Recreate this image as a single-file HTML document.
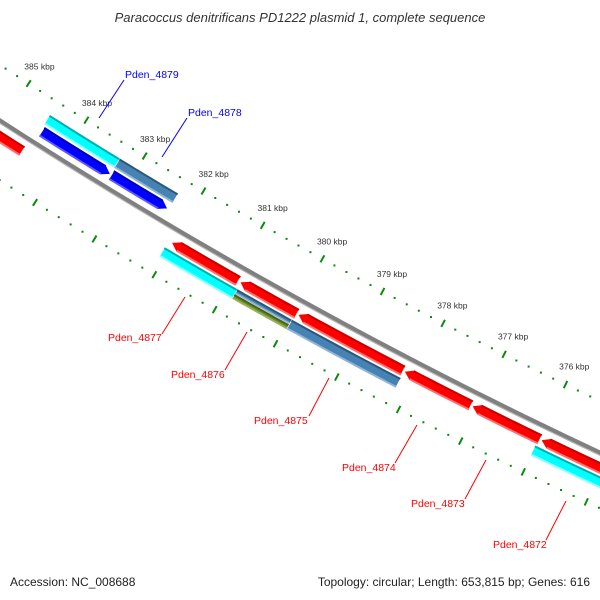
<!DOCTYPE html>
<html>
<head>
<meta charset="utf-8">
<style>
  html,body{margin:0;padding:0;background:#fff;}
  svg{display:block;font-family:"Liberation Sans",sans-serif;}
</style>
</head>
<body>
<svg id="map" width="600" height="600" viewBox="0 0 600 600" xmlns="http://www.w3.org/2000/svg">
  <rect width="600" height="600" fill="#fff"/>
  <g id="backbone-layer"></g>
  <g id="tick-layer"></g>
  <g id="feature-layer"></g>
  <g id="label-layer">
    <g fill="#0000ff" stroke="#0000ff">
      <line x1="124" y1="80" x2="99" y2="118" stroke-width="1"/>
      <text x="125" y="78" font-size="10.5" stroke="none">Pden_4879</text>
    </g>
    <g fill="#0000ff" stroke="#0000ff">
      <line x1="187" y1="118" x2="162" y2="157" stroke-width="1"/>
      <text x="188" y="116" font-size="10.5" stroke="none">Pden_4878</text>
    </g>
    <g fill="#ff0000" stroke="#ff0000">
      <line x1="185" y1="297" x2="162" y2="334" stroke-width="1"/>
      <text x="108" y="341" font-size="10.5" stroke="none">Pden_4877</text>
    </g>
    <g fill="#ff0000" stroke="#ff0000">
      <line x1="247" y1="332" x2="225" y2="370" stroke-width="1"/>
      <text x="171" y="378" font-size="10.5" stroke="none">Pden_4876</text>
    </g>
    <g fill="#ff0000" stroke="#ff0000">
      <line x1="329" y1="378" x2="309" y2="416" stroke-width="1"/>
      <text x="254" y="424" font-size="10.5" stroke="none">Pden_4875</text>
    </g>
    <g fill="#ff0000" stroke="#ff0000">
      <line x1="417" y1="425" x2="395" y2="463" stroke-width="1"/>
      <text x="342" y="471" font-size="10.5" stroke="none">Pden_4874</text>
    </g>
    <g fill="#ff0000" stroke="#ff0000">
      <line x1="486" y1="460" x2="465" y2="499" stroke-width="1"/>
      <text x="411" y="507" font-size="10.5" stroke="none">Pden_4873</text>
    </g>
    <g fill="#ff0000" stroke="#ff0000">
      <line x1="566" y1="501" x2="546" y2="540" stroke-width="1"/>
      <text x="493" y="548" font-size="10.5" stroke="none">Pden_4872</text>
    </g>
  </g>
  <text x="300" y="22" text-anchor="middle" font-size="13" font-style="italic" fill="#333">Paracoccus denitrificans PD1222 plasmid 1, complete sequence</text>
  <text x="10" y="586" font-size="12" fill="#222">Accession: NC_008688</text>
  <text x="590" y="586" text-anchor="end" font-size="12" fill="#222">Topology: circular; Length: 653,815 bp; Genes: 616</text>
</svg>
<script>
// ---- data ----
const featNames  = ['pden-4880','pden-4879-cds','pden-4878-cds','pden-4879-gene','pden-4878-gene',
                    'pden-4877-cds','pden-4876-cds','pden-4875-cds','pden-4874-cds','pden-4873-cds','pden-4872-cds',
                    'pden-4877-gene','pden-4876-gene','pden-4876-gene-b','pden-4875-gene','pden-4872-gene'];
const featStart  = [386.6, 384.46, 383.27, 384.49, 383.29,
                    382.02, 380.88, 379.92, 378.18, 377.08, 375.97,
                    382.07, 380.86, 380.86, 379.96, 376.01];
const featEnd    = [384.55, 383.29, 382.32, 383.29, 382.30,
                    380.91, 379.94, 378.20, 377.10, 375.99, 374.2,
                    380.86, 379.96, 379.96, 378.18, 374.2];
const featRing   = [1, -1, -1, -2, -2, 1, 1, 1, 1, 1, 1, 2, 2, 2, 2, 2];
const featShape  = ['rev','fwd','fwd','box','box','rev','rev','rev','rev','rev','rev','box','half1','half2','box','box'];
const featColor  = ['red','blue','blue','cyan','steel','red','red','red','red','red','red','cyan','steel','olive','steel','cyan'];
const tickMajor  = [387,386,385,384,383,382,381,380,379,378,377,376,375,374];
const tickLabels = ['387 kbp','386 kbp','385 kbp','384 kbp','383 kbp','382 kbp','381 kbp','380 kbp','379 kbp','378 kbp','377 kbp','376 kbp','375 kbp','374 kbp'];

// ---- geometry ----
const CX = 2780, CY = -4194, R = 5133;
function ang(k){ return (122.75 - (385 - k) * 0.771) * Math.PI / 180; }
function pt(r, k){ const a = ang(k); return [CX + r*Math.cos(a), CY + r*Math.sin(a)]; }
function arcPts(r, k1, k2, n){ const out=[]; for(let i=0;i<=n;i++){ out.push(pt(r, k1+(k2-k1)*i/n)); } return out; }
function ptsStr(p){ return p.map(q=>q[0].toFixed(2)+','+q[1].toFixed(2)).join(' '); }
const NS = 'http://www.w3.org/2000/svg';
const palette = {
  red:['#ff0000','#c80000','#ff7070'],
  blue:['#0000ff','#0000b4','#5a5aff'],
  cyan:['#00ffff','#00b0b0','#90ffff'],
  steel:['#4682b4','#2c5878','#90b4d4'],
  olive:['#6b8e23','#4a6418','#9ab060']
};
function ringRadii(ring){
  if(ring===-1) return [R-19, R-8];
  if(ring===-2) return [R-32, R-21];
  if(ring===1)  return [R+8, R+19];
  return [R+21, R+32];
}
const TIP = 0.12;

// backbone
const bb = document.getElementById('backbone-layer');
const bbLine = document.createElementNS(NS,'polyline');
bbLine.setAttribute('points', ptsStr(arcPts(R, 387.5, 373, 60)));
bbLine.setAttribute('fill','none');
bbLine.setAttribute('stroke','#808080');
bbLine.setAttribute('stroke-width','5');


bb.appendChild(bbLine);
const bbHi = document.createElementNS(NS,'polyline');
bbHi.setAttribute('points', ptsStr(arcPts(R+2, 387.5, 373, 60)));
bbHi.setAttribute('fill','none');
bbHi.setAttribute('stroke','#b8b8b8');
bbHi.setAttribute('stroke-width','1');


bb.appendChild(bbHi);

// ticks
const tl = document.getElementById('tick-layer');
const rows = [{rc:R-47, name:'outer'}, {rc:R+50, name:'inner'}];
rows.forEach(row=>{
  tickMajor.forEach((k,i)=>{
    const a = pt(row.rc-4, k), b = pt(row.rc+4, k);
    const ln = document.createElementNS(NS,'line');
    ln.setAttribute('x1',a[0]); ln.setAttribute('y1',a[1]);
    ln.setAttribute('x2',b[0]); ln.setAttribute('y2',b[1]);
    ln.setAttribute('stroke','#0a8a0a'); ln.setAttribute('stroke-width','2');
    
    
    tl.appendChild(ln);
    for(let j=1;j<5;j++){
      const kk = k - j*0.2;
      const c = pt(row.rc, kk);
      const d = document.createElementNS(NS,'rect');
      d.setAttribute('x',c[0]-1); d.setAttribute('y',c[1]-1);
      d.setAttribute('width',2); d.setAttribute('height',2);
      d.setAttribute('fill','#0a8a0a');
      
      
      tl.appendChild(d);
    }
    if(row.name==='outer'){
      const lp = pt(R-67, k);
      const t = document.createElementNS(NS,'text');
      t.setAttribute('x',lp[0]); t.setAttribute('y',lp[1]+3);
      t.setAttribute('text-anchor','middle');
      t.setAttribute('font-size','8.5');
      t.setAttribute('fill','#333');
      t.textContent = tickLabels[i];
      
      
      tl.appendChild(t);
    }
  });
});

// features
const fl = document.getElementById('feature-layer');
function addPoly(pts, fill, name, stroke){
  const p = document.createElementNS(NS,'polygon');
  p.setAttribute('points', ptsStr(pts));
  p.setAttribute('fill', fill);
  if(stroke){ p.setAttribute('stroke','#ffffff'); p.setAttribute('stroke-width','0.7'); }
  
  
  fl.appendChild(p);
}
featNames.forEach((nm,i)=>{
  let [r1,r2] = ringRadii(featRing[i]);
  const shape = featShape[i];
  if(shape==='half1') r2 = (r1+r2)/2;
  if(shape==='half2') r1 = (r1+r2)/2;
  const k1 = featStart[i], k2 = featEnd[i];
  const col = palette[featColor[i]];
  const rm = (r1+r2)/2;
  let pts, bs=k1, be=k2;
  if(shape==='fwd'){
    be = k2 + TIP;
    pts = arcPts(r1,k1,be,12).concat([pt(rm,k2)]).concat(arcPts(r2,be,k1,12));
  } else if(shape==='rev'){
    bs = k1 - TIP;
    pts = [pt(rm,k1)].concat(arcPts(r1,bs,k2,12)).concat(arcPts(r2,k2,bs,12));
  } else {
    pts = arcPts(r1,k1,k2,12).concat(arcPts(r2,k2,k1,12));
  }
  addPoly(pts, col[0], nm, true);
  // shading strips
  addPoly(arcPts(r1,bs,be,12).concat(arcPts(r1+2,be,bs,12)), col[1], nm+'-shade-dark', false);
  addPoly(arcPts(r2-2,bs,be,12).concat(arcPts(r2,be,bs,12)), col[2], nm+'-shade-light', false);
});
</script>
</body>
</html>
